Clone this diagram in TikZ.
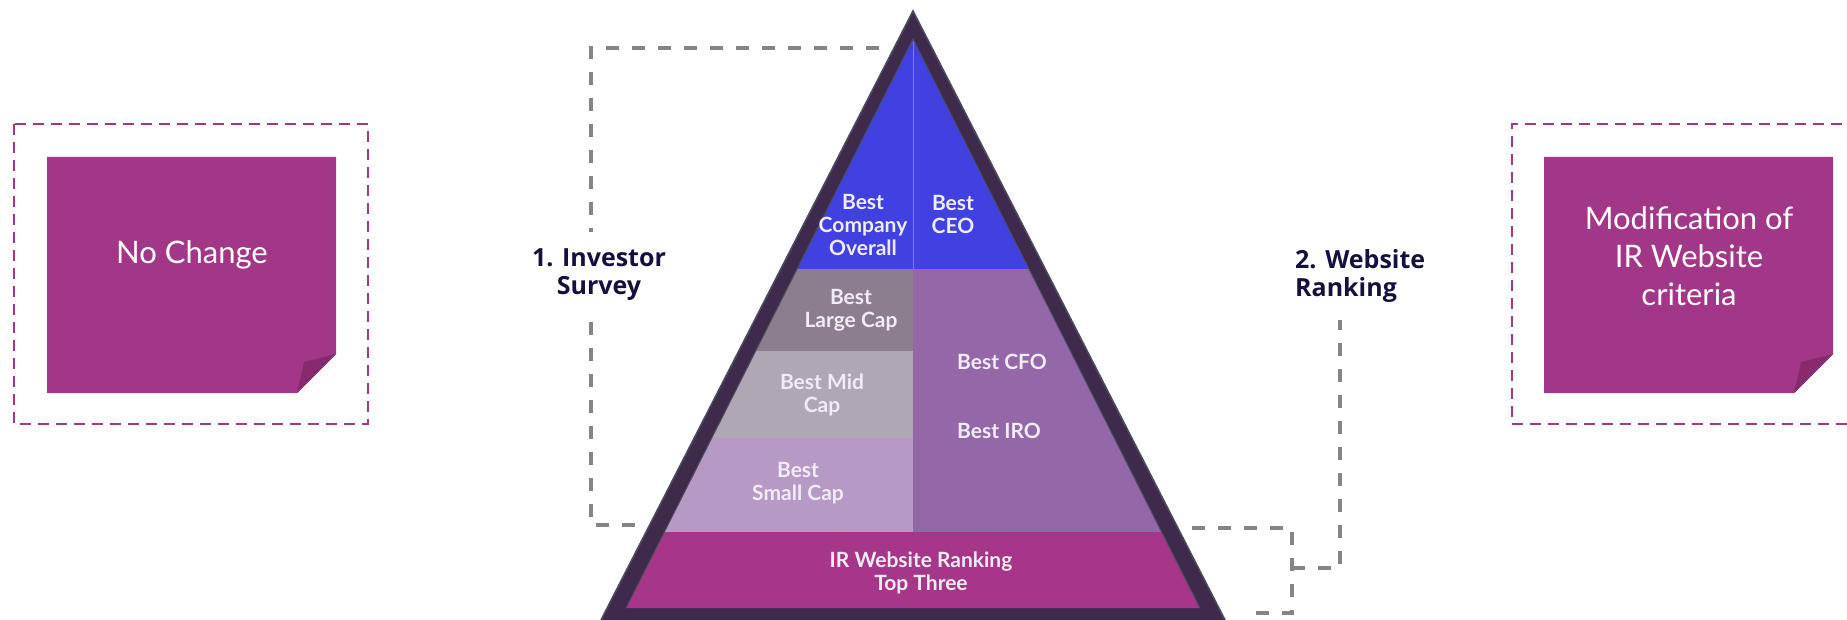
\documentclass[tikz,border=0pt]{standalone}
\usepackage{fontspec}
\setmainfont{Lato}
\newfontfamily\labfont{Open Sans}
\definecolor{pblue}{HTML}{4141E2}
\definecolor{plarge}{HTML}{8C7E8F}
\definecolor{pmid}{HTML}{B0A7B4}
\definecolor{psmall}{HTML}{B699C4}
\definecolor{ppurple}{HTML}{9468A8}
\definecolor{pmag}{HTML}{A53688}
\definecolor{pdark}{HTML}{3E2A4A}
\definecolor{pedge}{HTML}{4B4A5E}
\definecolor{notemag}{HTML}{A33787}
\definecolor{notefold}{HTML}{852B6E}
\definecolor{conngray}{HTML}{858585}
\definecolor{labcol}{HTML}{14113F}
\definecolor{ptxt}{HTML}{F0ECF4}
\definecolor{divline}{HTML}{7B7BF2}
\begin{document}
\begin{tikzpicture}[x=1pt,y=-1pt,
  conn/.style={draw=conngray, line width=3.2pt, dash pattern=on 13pt off 13pt},
  ptext/.style={text=ptxt, font=\bfseries\fontsize{21}{23}\selectfont, align=center, inner sep=0pt},
  lab/.style={text=labcol, font=\labfont\bfseries\fontsize{25}{28}\selectfont, inner xsep=0pt, inner ysep=17pt},
  notetext/.style={text=white, font=\fontsize{31}{38}\selectfont, align=center, inner sep=0pt},
  notebox/.style={draw=notemag, line width=2.7pt, dash pattern=on 11pt off 7pt},
  notebody/.style={fill=notemag},
  notecorner/.style={fill=notefold}]
\useasboundingbox (0,0) rectangle (1847,620);

% left note
\draw[notebox] (14,124) rectangle (368,424);
\fill[notebody] (47,157) -- (336,157) -- (336,354) -- (297,393) -- (47,393) -- cycle;
\fill[notecorner] (297,393) -- (304,362) -- (336,354) -- cycle;
\node[notetext] (nochange) at (192,255) {No Change};

% right note
\draw[notebox] (1860,124) -- (1512,124) -- (1512,424) -- (1860,424);
\fill[notebody] (1544,157) -- (1833,157) -- (1833,354) -- (1794,393) -- (1544,393) -- cycle;
\fill[notecorner] (1794,393) -- (1801,362) -- (1833,354) -- cycle;
\node[notetext] (modif) at (1689,256) {Modification of\\IR Website\\criteria};

% pyramid
\fill[pdark] (913,11) -- (601,620) -- (1225,620) -- cycle;
\draw[pedge, line width=1.6pt] (601,620) -- (913,11) -- (1225,620);
\begin{scope}
  \clip (913,39) -- (626,608) -- (1200,608) -- cycle;
  \fill[pblue] (600,30) rectangle (1230,269);
  \fill[plarge] (600,269) rectangle (913,351);
  \fill[pmid] (600,351) rectangle (913,438);
  \fill[psmall] (600,438) rectangle (913,532);
  \fill[ppurple] (913,269) rectangle (1230,532);
  \fill[pmag] (600,532) rectangle (1230,610);
  \draw[divline, line width=1.4pt] (913.5,30) -- (913.5,269);
\end{scope}
\draw[pedge, line width=1pt] (626,608) -- (913,39) -- (1200,608);

% pyramid texts
\node[ptext] (bco) at (863,225) {Best\\Company\\Overall};
\node[ptext] (bceo) at (953,214) {Best\\CEO};
\node[ptext] (blc) at (851,310) {Best\\Large Cap};
\node[ptext] (bmc) at (822,395) {Best Mid\\Cap};
\node[ptext] (bsc) at (798,483) {Best\\Small Cap};
\node[ptext, anchor=west] (bcfo) at (957,362) {Best CFO};
\node[ptext, anchor=west] (biro) at (957,431) {Best IRO};
\node[ptext] (irw) at (921,573) {IR Website Ranking\\Top Three};

% labels
\node[lab, align=center] (inv) at (599,275) {1. Investor\\Survey};
\node[lab, align=left, anchor=west] (web) at (1295,276) {2. Website\\Ranking};

% left bracket
\coordinate (LX) at (591,0);
\coordinate (LT) at (879,48);
\coordinate (LB) at (635,525);
\draw[conn] (LT) -| (inv.north -| LX);
\draw[conn] (LB) -| (inv.south -| LX);

% right bracket
\coordinate (RT) at (1192,528);
\coordinate (RBm) at (1247,613);
\coordinate (RM) at (1292,568);
\coordinate (SX) at (1340,0);
\draw[conn] (RT) -- (RM |- RT) -- (RM |- RBm) -- (RBm);
\draw[conn] (RM) -| (web.south -| SX);
\end{tikzpicture}
\end{document}
